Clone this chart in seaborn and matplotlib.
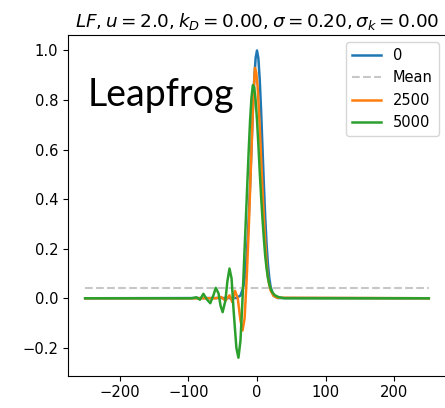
import matplotlib
matplotlib.use("Agg")
import matplotlib.pyplot as plt
import seaborn as sns
import pandas as pd

# ---- data ----
x_t0 = [-250, -30, -24, -20, -18, -16, -14, -12, -10, -8, -6, -4, -2, 0,
        2, 4, 6, 8, 10, 12, 14, 16, 18, 20, 24, 30, 250]
y_t0 = [0.0, 0.001, 0.011, 0.044, 0.08, 0.135, 0.216, 0.325, 0.458, 0.607, 0.755, 0.882, 0.969, 1.0,
        0.969, 0.882, 0.755, 0.607, 0.458, 0.325, 0.216, 0.135, 0.08, 0.044, 0.011, 0.001, 0.0]

x_mean = [-250, 250]
y_mean = [0.04, 0.04]

x_t2500 = [-250, -60, -52, -46, -40, -36, -32, -28, -24, -21, -18, -15, -12, -10, -8, -6, -4, -3,
           -1, 1, 3, 5, 7, 9, 11, 13, 15, 17, 20, 24, 30, 250]
y_t2500 = [0.0, 0.0, 0.005, -0.01, 0.012, -0.015, 0.03, 0.0, -0.09, -0.13, -0.08, 0.08, 0.28, 0.44, 0.6, 0.76, 0.88, 0.93,
           0.91, 0.85, 0.75, 0.63, 0.5, 0.38, 0.27, 0.18, 0.11, 0.065, 0.03, 0.01, 0.002, 0.0]

x_t5000 = [-250, -95, -88, -83, -78, -73, -68, -63, -60, -56, -53, -50, -46, -43, -40, -37, -34, -30, -27,
           -24, -21, -18, -15, -12, -10, -8, -6, -4, -2, 0, 2, 4, 6, 8, 10, 12, 14, 16, 19, 22, 26, 32, 40, 250]
y_t5000 = [0.0, 0.0, 0.004, -0.006, 0.018, -0.004, -0.02, 0.015, 0.042, 0.02, -0.03, -0.056, -0.01, 0.07, 0.12, 0.08, -0.05, -0.2, -0.24,
           -0.17, 0.0, 0.2, 0.4, 0.6, 0.72, 0.81, 0.86, 0.85, 0.8, 0.72, 0.62, 0.51, 0.41, 0.32, 0.24, 0.17, 0.12, 0.08, 0.045, 0.025, 0.012, 0.004, 0.0, 0.0]

labels = ["0", "Mean", "2500", "5000"]
xticks = [-200, -100, 0, 100, 200]
yticks = [-0.2, 0.0, 0.2, 0.4, 0.6, 0.8, 1.0]

fig = plt.figure(figsize=(4.45, 4.08), dpi=100)
ax = fig.add_axes([0.1528, 0.0792, 0.8494, 0.835])

sns.lineplot(x=x_t0, y=y_t0, ax=ax, color="#1f77b4", lw=1.8, label=labels[0], sort=False)
sns.lineplot(x=x_mean, y=y_mean, ax=ax, color="0.78", lw=1.5, ls="--", label=labels[1], sort=False)
sns.lineplot(x=x_t2500, y=y_t2500, ax=ax, color="#ff7f0e", lw=1.8, label=labels[2], sort=False)
sns.lineplot(x=x_t5000, y=y_t5000, ax=ax, color="#2ca02c", lw=1.8, label=labels[3], sort=False)

ax.set_xlim(-275, 275)
ax.set_ylim(-0.3125, 1.0625)
ax.set_xticks(xticks)
ax.set_yticks(yticks)
ax.tick_params(labelsize=10.6)
ax.set_xlabel("")
ax.set_ylabel("")
ax.set_title(r"$LF, u = 2.0, k_D = 0.00, \sigma = 0.20, \sigma_k = 0.00$", fontsize=13.2)
ax.legend(loc="upper right", fontsize=10.5)

ax.text(0.053, 0.824, "Leapfrog", transform=ax.transAxes, fontsize=27,
        family="Lato", va="center", ha="left", color="black")

fig.savefig("out.png", dpi=100)
